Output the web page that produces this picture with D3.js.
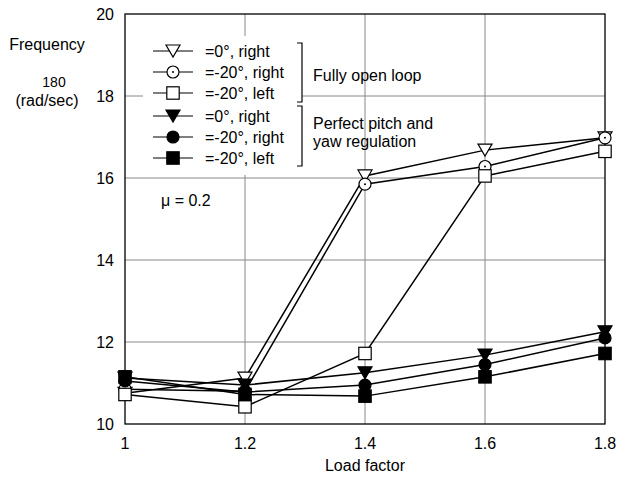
<!DOCTYPE html>
<html><head><meta charset="utf-8">
<script src="https://cdn.jsdelivr.net/npm/d3@7"></script>
<style>body{margin:0;background:#fff}svg{font-family:"Liberation Sans",Arial,sans-serif}</style>
</head><body>
<svg id="c" width="623" height="478"></svg>
<script>
const loadFactors = [1, 1.2, 1.4, 1.6, 1.8];
const xTicks = [1, 1.2, 1.4, 1.6, 1.8];
const yTicks = [10, 12, 14, 16, 18, 20];
const openTri    = [10.75, 11.12, 16.05, 16.68, 16.98];
const openCircle = [10.85, 10.80, 15.85, 16.28, 16.98];
const openSquare = [10.72, 10.42, 11.72, 16.05, 16.65];
const fillTri    = [11.12, 10.95, 11.25, 11.68, 12.25];
const fillCircle = [11.05, 10.78, 10.95, 11.45, 12.10];
const fillSquare = [11.15, 10.72, 10.68, 11.15, 11.72];
const seriesLabels = ["=0°, right", "=-20°, right", "=-20°, left", "=0°, right", "=-20°, right", "=-20°, left"];

const series = [
  {v: openTri, shape: "triDown", fill: "#fff"},
  {v: openCircle, shape: "circle", fill: "#fff", dot: true},
  {v: openSquare, shape: "square", fill: "#fff"},
  {v: fillTri, shape: "triDown", fill: "#000"},
  {v: fillCircle, shape: "circle", fill: "#000"},
  {v: fillSquare, shape: "square", fill: "#000"}
];

const svg = d3.select("#c");
const L = 125, R = 605, T = 14, B = 424;
const x = d3.scaleLinear().domain([1, 1.8]).range([L, R]);
const y = d3.scaleLinear().domain([10, 20]).range([B, T]);

// grid
const g = svg.append("g");
g.selectAll(".vg").data(xTicks.slice(1, -1)).enter().append("line")
  .attr("x1", d => x(d)).attr("x2", d => x(d)).attr("y1", T).attr("y2", B)
  .attr("stroke", "#888").attr("stroke-width", 1);
g.selectAll(".hg").data(yTicks.slice(1, -1)).enter().append("line")
  .attr("x1", L).attr("x2", R).attr("y1", d => y(d)).attr("y2", d => y(d))
  .attr("stroke", "#888").attr("stroke-width", 1);

// frame
svg.append("rect").attr("x", L).attr("y", T).attr("width", R - L).attr("height", B - T)
  .attr("fill", "none").attr("stroke", "#000").attr("stroke-width", 1.3);

// tick labels
svg.selectAll(".yl").data(yTicks).enter().append("text")
  .attr("x", L - 11).attr("y", d => y(d) + 6).attr("text-anchor", "end")
  .attr("font-size", 16).text(d => d);
svg.selectAll(".xl").data(xTicks).enter().append("text")
  .attr("x", d => x(d)).attr("y", 449).attr("text-anchor", "middle")
  .attr("font-size", 16).text(d => d);

svg.append("text").attr("x", 365).attr("y", 471).attr("text-anchor", "middle")
  .attr("font-size", 16).text("Load factor");
svg.append("text").attr("x", 47).attr("y", 50).attr("text-anchor", "middle")
  .attr("font-size", 16).text("Frequency");
svg.append("text").attr("x", 54).attr("y", 87).attr("text-anchor", "middle")
  .attr("font-size", 14).text("180");
svg.append("text").attr("x", 47).attr("y", 106).attr("text-anchor", "middle")
  .attr("font-size", 16).text("(rad/sec)");

function marker(sel, s, cx, cy) {
  const sw = 1.2;
  if (s.shape === "triDown") {
    const w = 7, h = 12;
    sel.append("path").attr("d", `M${cx - w},${cy - h / 2}L${cx + w},${cy - h / 2}L${cx},${cy + h / 2}Z`)
      .attr("fill", s.fill).attr("stroke", "#000").attr("stroke-width", sw);
  } else if (s.shape === "circle") {
    sel.append("circle").attr("cx", cx).attr("cy", cy).attr("r", 6)
      .attr("fill", s.fill).attr("stroke", "#000").attr("stroke-width", sw);
    if (s.dot) sel.append("circle").attr("cx", cx).attr("cy", cy).attr("r", 1).attr("fill", "#000");
  } else {
    const a = 6.2;
    sel.append("rect").attr("x", cx - a).attr("y", cy - a).attr("width", 2 * a).attr("height", 2 * a)
      .attr("fill", s.fill).attr("stroke", "#000").attr("stroke-width", sw);
  }
}

// lines
const line = d3.line().x((d, i) => x(loadFactors[i])).y(d => y(d));
series.forEach(s => {
  svg.append("path").attr("d", line(s.v)).attr("fill", "none")
    .attr("stroke", "#000").attr("stroke-width", 1.5);
});
// markers
series.forEach(s => {
  const mg = svg.append("g");
  s.v.forEach((d, i) => marker(mg, s, x(loadFactors[i]), y(d)));
});

// legend
svg.append("rect").attr("x", 143).attr("y", 36).attr("width", 159).attr("height", 139).attr("fill", "#fff");
const rowY = [51, 72, 93, 116, 137, 158];
series.forEach((s, i) => {
  const lg = svg.append("g");
  lg.append("line").attr("x1", 153).attr("x2", 193).attr("y1", rowY[i]).attr("y2", rowY[i])
    .attr("stroke", "#000").attr("stroke-width", 1.2);
  marker(lg, s, 173, rowY[i]);
  lg.append("text").attr("x", 205).attr("y", rowY[i] + 6).attr("font-size", 16).text(seriesLabels[i]);
});
function bracket(y1, y2) {
  svg.append("path").attr("d", `M297,${y1}L302,${y1}L302,${y2}L297,${y2}`)
    .attr("fill", "none").attr("stroke", "#000").attr("stroke-width", 1.2);
}
bracket(43, 102);
bracket(106, 166);
svg.append("text").attr("x", 313).attr("y", 81).attr("font-size", 16).text("Fully open loop");
svg.append("text").attr("x", 313).attr("y", 129).attr("font-size", 16).text("Perfect pitch and");
svg.append("text").attr("x", 313).attr("y", 147).attr("font-size", 16).text("yaw regulation");
svg.append("text").attr("x", 161).attr("y", 206).attr("font-size", 16).text("μ = 0.2");
</script>
</body></html>
